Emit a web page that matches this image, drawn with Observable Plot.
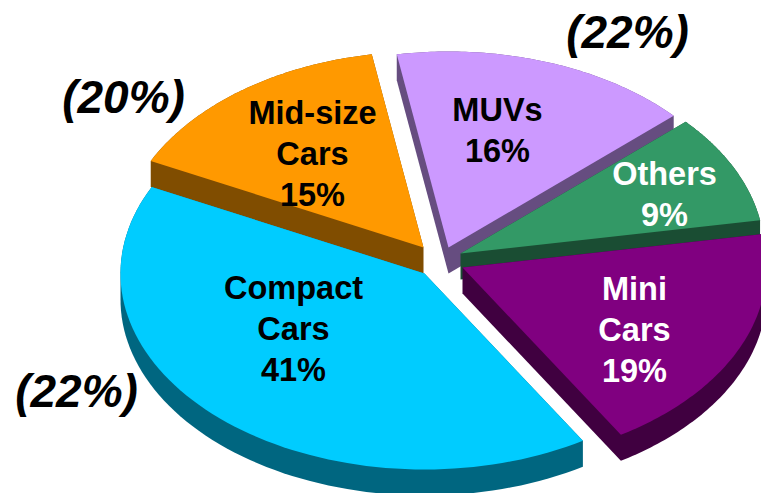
<!DOCTYPE html>
<html>
<head>
<meta charset="utf-8">
<style>
html,body{margin:0;padding:0;background:#fff;overflow:hidden}
svg{display:block}
</style>
<script src="https://cdn.jsdelivr.net/npm/d3@7"></script>
<script src="https://cdn.jsdelivr.net/npm/@observablehq/plot@0.6"></script>
</head>
<body>
<div id="chart"></div>
<script>
// Data
const categories = ["Compact\nCars", "Mid-size\nCars", "MUVs", "Others", "Mini\nCars"];
const shares = [41, 15, 16, 9, 19];
const outerLabels = ["(22%)", "(20%)", "(22%)"];

// Styles and layout (pixel-space scales: one unit = one pixel)
const topColors = ["#00CCFF", "#FF9900", "#CC99FF", "#339966", "#800080"];
const wallColors = ["#006680", "#804D00", "#664D80", "#1A4D33", "#400040"];
const apexX = [424, 423, 448, 460, 462];
const apexY = [273, 247, 247, 253, 267];
const labelX = [293, 312, 497, 664, 634];
const labelY = [326.5, 151.5, 128, 192, 327.5];
const labelFill = ["#000", "#000", "#000", "#fff", "#fff"];
const outerX = [627, 123, 76];
const outerY = [33, 98, 392];
const RX = 304, RY = 196, DEPTH = 26;
const drawOrder = [2, 3, 4, 1, 0];

const arcs = d3.pie().sort(null).startAngle(148.6 * Math.PI / 180).endAngle((148.6 + 360) * Math.PI / 180)(shares);

function topFace(i) {
  const a = arcs[i];
  const pts = [[apexX[i], apexY[i]]];
  const n = 80;
  for (let k = 0; k <= n; k++) {
    const t = a.startAngle + (a.endAngle - a.startAngle) * k / n;
    pts.push([apexX[i] + RX * Math.sin(t), apexY[i] - RY * Math.cos(t)]);
  }
  return pts;
}
function wallFace(pts) {
  return d3.polygonHull(pts.concat(pts.map(([x, y]) => [x, y + DEPTH])));
}

const marks = [];
for (const i of drawOrder) {
  const top = topFace(i);
  marks.push(Plot.line(wallFace(top), {x: d => d[0], y: d => d[1], fill: wallColors[i], stroke: "none"}));
  marks.push(Plot.line(top, {x: d => d[0], y: d => d[1], fill: topColors[i], stroke: "none"}));
}
const font = "'Liberation Sans', Arial, sans-serif";
categories.forEach((c, i) => {
  marks.push(Plot.text([`${c}\n${shares[i]}%`], {
    x: () => labelX[i], y: () => labelY[i], text: d => d,
    fill: labelFill[i], fontSize: 32.5, fontWeight: "bold", fontFamily: font,
    lineHeight: 1.26, textAnchor: "middle", lineAnchor: "middle"
  }));
});
outerLabels.forEach((t, i) => {
  marks.push(Plot.text([t], {
    x: () => outerX[i], y: () => outerY[i], text: d => d,
    fill: "#000", fontSize: 46, fontWeight: "bold", fontStyle: "italic", fontFamily: font,
    textAnchor: "middle", lineAnchor: "middle"
  }));
});

const chart = Plot.plot({
  width: 761, height: 493, margin: 0,
  x: {domain: [0, 761], range: [0, 761], axis: null},
  y: {domain: [0, 493], range: [0, 493], axis: null},
  style: {background: "#fff"},
  marks
});
document.getElementById("chart").append(chart);
</script>
</body>
</html>
